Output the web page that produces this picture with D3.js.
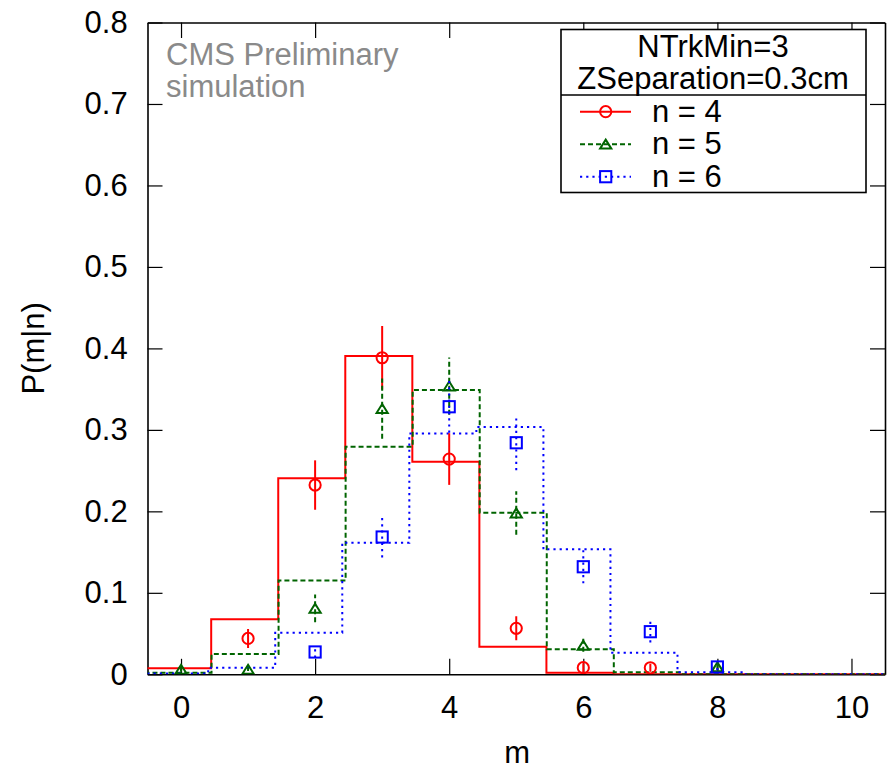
<!DOCTYPE html>
<html><head><meta charset="utf-8">
<script src="https://cdn.jsdelivr.net/npm/d3@7"></script>
<style>body{margin:0;background:#fff} svg text{font-family:"Liberation Sans",Arial,Helvetica,sans-serif}</style>
</head><body><svg id="c" width="890" height="771"></svg>
<script>
// ---- data ----
const mValues = [0, 1, 2, 3, 4, 5, 6, 7, 8, 9, 10];
const histN4 = [0.0074, 0.0675, 0.2405, 0.3906, 0.2609, 0.0339, 0.002, 0, 0, 0, 0];
const histN5 = [0.002, 0.0249, 0.115, 0.2793, 0.3488, 0.1983, 0.0307, 0.0025, 0, 0, 0];
const histN6 = [0.001, 0.0081, 0.051, 0.1615, 0.2957, 0.3036, 0.1534, 0.0265, 0.0025, 0, 0];
const pointsN4 = [null, 0.044, 0.2323, 0.3885, 0.2642, 0.0564, 0.0081, 0.008, null, null, null];
const errorsN4 = [0, 0.0117, 0.0303, 0.039, 0.0317, 0.0147, 0.0055, 0.005, 0, 0, 0];
const pointsN5 = [0.006, 0.006, 0.081, 0.326, 0.3537, 0.198, 0.0356, null, 0.009, null, null];
const errorsN5 = [0.003, 0.002, 0.017, 0.037, 0.035, 0.0266, 0.008, 0, 0.004, 0, 0];
const pointsN6 = [null, null, 0.0274, 0.1685, 0.3284, 0.2842, 0.132, 0.0523, 0.009, null, null];
const errorsN6 = [0, 0, 0.007, 0.025, 0.032, 0.0337, 0.0204, 0.0133, 0.004, 0, 0];
const xTickValues = [0, 2, 4, 6, 8, 10];
const yTickValues = [0, 0.1, 0.2, 0.3, 0.4, 0.5, 0.6, 0.7, 0.8];
const yTickLabels = ["0", "0.1", "0.2", "0.3", "0.4", "0.5", "0.6", "0.7", "0.8"];
const seriesNames = ["n = 4", "n = 5", "n = 6"];
const legendHeader = ["NTrkMin=3", "ZSeparation=0.3cm"];
const stampLines = ["CMS Preliminary", "simulation"];
const xTitle = "m";
const yTitle = "P(m|n)";

// ---- styles ----
const series = [
  {name: seriesNames[0], hist: histN4, pts: pointsN4, err: errorsN4, color: "#ff0000", dash: null, marker: "circle", shift: -0.05},
  {name: seriesNames[1], hist: histN5, pts: pointsN5, err: errorsN5, color: "#006400", dash: "5,3", marker: "triangle", shift: -0.045},
  {name: seriesNames[2], hist: histN6, pts: pointsN6, err: errorsN6, color: "#0000ff", dash: "2.2,4", marker: "square", shift: -0.095}
];
const FS = 31;
const plot = {left: 147.5, right: 885, top: 22.5, bottom: 674.3};
const svg = d3.select("#c");
const x = d3.scaleLinear().domain([-0.5, 10.5]).range([plot.left, plot.right]);
const y = d3.scaleLinear().domain([0, 0.8]).range([plot.bottom, plot.top]);

svg.append("defs").append("clipPath").attr("id", "pc").append("rect")
  .attr("x", plot.left).attr("y", plot.top)
  .attr("width", plot.right - plot.left).attr("height", plot.bottom - plot.top);

// axes
function styleAxis(g) {
  g.attr("font-family", null).attr("font-size", null);
  g.selectAll(".tick line").attr("stroke", "#000").attr("stroke-width", 1.2);
  g.selectAll(".domain").attr("stroke", "#000").attr("stroke-width", 1.6);
  g.selectAll("text").attr("font-size", FS).attr("fill", "#000");
}
svg.append("g").attr("transform", `translate(0,${plot.bottom})`)
  .call(d3.axisBottom(x).tickValues(xTickValues).tickSizeInner(-15.5).tickSizeOuter(0).tickPadding(21.5).tickFormat(d3.format("d")))
  .call(styleAxis);
svg.append("g").attr("transform", `translate(0,${plot.top})`)
  .call(d3.axisTop(x).tickValues(xTickValues).tickSizeInner(-15.5).tickSizeOuter(0).tickFormat(""))
  .call(styleAxis);
svg.append("g").attr("transform", `translate(${plot.left},0)`)
  .call(d3.axisLeft(y).tickValues(yTickValues).tickSizeInner(-15).tickSizeOuter(0).tickPadding(19.8)
    .tickFormat((d, i) => yTickLabels[i]))
  .call(styleAxis);
svg.append("g").attr("transform", `translate(${plot.right},0)`)
  .call(d3.axisRight(y).tickValues(yTickValues).tickSizeInner(-15).tickSizeOuter(0).tickFormat(""))
  .call(styleAxis);

// titles
svg.append("text").attr("x", (plot.left + plot.right) / 2 + 1).attr("y", 763)
  .attr("text-anchor", "middle").attr("font-size", FS).text(xTitle);
svg.append("text").attr("transform", `translate(43.5,${(plot.top + plot.bottom) / 2}) rotate(-90)`)
  .attr("text-anchor", "middle").attr("font-size", FS).text(yTitle);

// stamp
stampLines.forEach((t, i) => {
  svg.append("text").attr("x", 166).attr("y", 65 + i * 32).attr("font-size", FS)
    .attr("fill", "#8a8a8a").text(t);
});

// markers
function marker(g, type, cx, cy, color) {
  if (type === "circle") {
    g.append("circle").attr("cx", cx).attr("cy", cy).attr("r", 5.6)
      .attr("fill", "none").attr("stroke", color).attr("stroke-width", 2);
  } else if (type === "square") {
    g.append("rect").attr("x", cx - 5.6).attr("y", cy - 5.6).attr("width", 11.2).attr("height", 11.2)
      .attr("fill", "none").attr("stroke", color).attr("stroke-width", 2);
  } else {
    g.append("path").attr("d", `M${cx},${cy - 4.6}L${cx + 5.6},${cy + 4.4}L${cx - 5.6},${cy + 4.4}Z`)
      .attr("fill", "none").attr("stroke", color).attr("stroke-width", 2).attr("stroke-linejoin", "miter");
  }
}

const plotG = svg.append("g").attr("clip-path", "url(#pc)");
const stepLine = d3.line().x(d => x(d.x)).y(d => y(d.v)).curve(d3.curveStepAfter);
series.forEach(s => {
  const pts = mValues.map((m, i) => ({x: m + s.shift - 0.5, v: s.hist[i]}));
  pts.push({x: 11, v: s.hist[s.hist.length - 1]});
  plotG.append("path").attr("d", stepLine(pts)).attr("fill", "none")
    .attr("stroke", s.color).attr("stroke-width", 2).attr("stroke-dasharray", s.dash);
});
series.forEach(s => {
  const g = plotG.append("g");
  mValues.forEach((m, i) => {
    const v = s.pts[i];
    if (v === null) return;
    const e = s.err[i];
    if (e > 0) {
      g.append("line").attr("x1", x(m)).attr("x2", x(m)).attr("y1", y(v - e)).attr("y2", y(v + e))
        .attr("stroke", s.color).attr("stroke-width", 2).attr("stroke-dasharray", s.dash);
    }
    marker(g, s.marker, x(m), y(v), s.color);
  });
});

// legend
const lg = svg.append("g");
const L = {x0: 561, x1: 866, y0: 29.5, y1: 192.5, div: 95};
lg.append("rect").attr("x", L.x0).attr("y", L.y0).attr("width", L.x1 - L.x0).attr("height", L.y1 - L.y0)
  .attr("fill", "#fff").attr("stroke", "#000").attr("stroke-width", 1.6);
lg.append("line").attr("x1", L.x0).attr("x2", L.x1).attr("y1", L.div).attr("y2", L.div)
  .attr("stroke", "#000").attr("stroke-width", 1.6);
legendHeader.forEach((t, i) => {
  lg.append("text").attr("x", 713).attr("y", 57 + i * 32.3).attr("text-anchor", "middle")
    .attr("font-size", FS).text(t);
});
series.forEach((s, i) => {
  const by = 121.7 + i * 32.5;
  const ly = by - 10;
  lg.append("line").attr("x1", 580).attr("x2", 631).attr("y1", ly).attr("y2", ly)
    .attr("stroke", s.color).attr("stroke-width", 2).attr("stroke-dasharray", s.dash);
  marker(lg, s.marker, 605.7, ly, s.color);
  lg.append("text").attr("x", 652).attr("y", by).attr("font-size", FS).text(s.name);
});
</script></body></html>
